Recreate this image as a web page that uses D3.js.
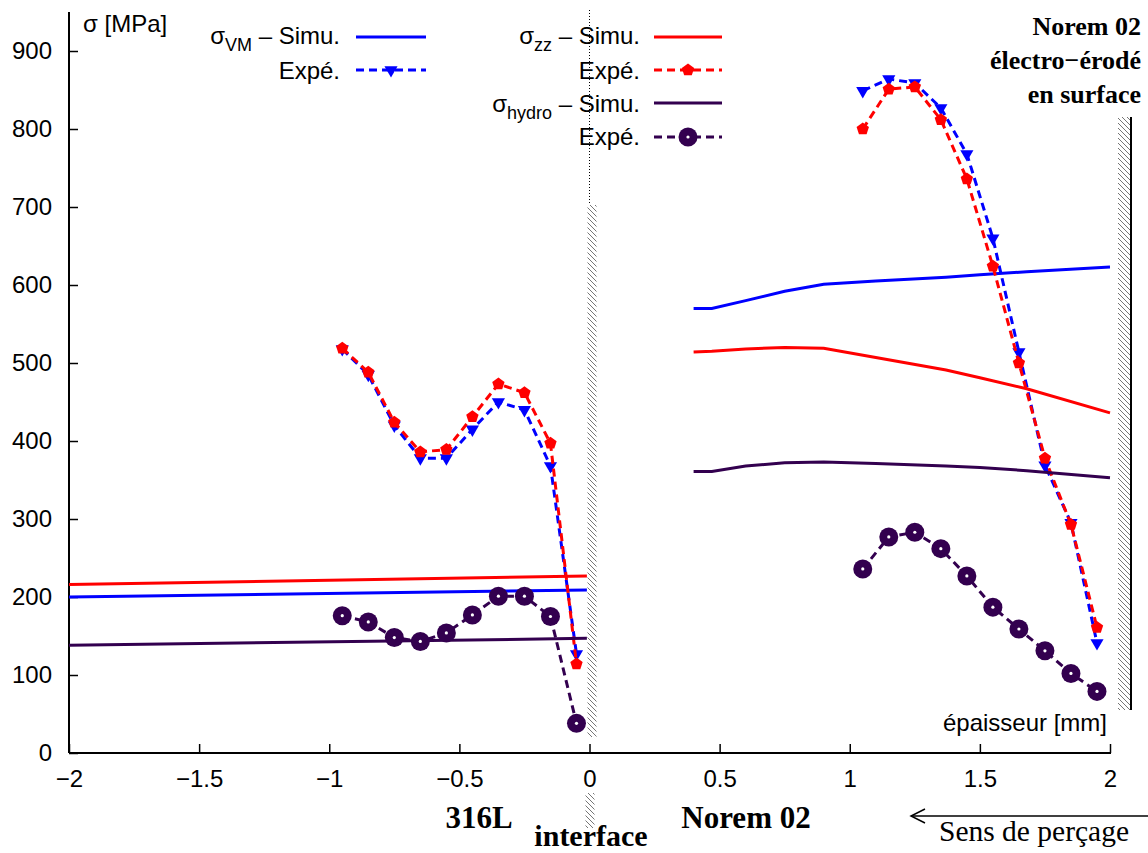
<!DOCTYPE html>
<html><head><meta charset="utf-8">
<script src="https://cdn.jsdelivr.net/npm/d3@7"></script>
<style>
body{margin:0;background:#fff;}
text{font-family:"Liberation Sans",Arial,sans-serif;}
.serif{font-family:"Liberation Serif","Times New Roman",serif;}
</style></head>
<body><svg id="c" width="1148" height="853"></svg>
<script>
// ---------- data ----------
const xTicks = [-2,-1.5,-1,-0.5,0,0.5,1,1.5,2];
const yTicks = [0,100,200,300,400,500,600,700,800,900];

const xSimLeft = [-2, -0.01];
const vmSimLeft = [200, 209];
const zzSimLeft = [216, 227];
const hySimLeft = [138, 147];

const xSimRight = [0.4,0.47,0.6,0.75,0.9,1.1,1.37,1.5,1.68,2.0];
const vmSimRight = [570,570,580,592,601,605,610,613,617,623];
const zzSimRight = [514,515,518,520,519,507,491,481,467,436];
const hySimRight = [361,361,368,372,373,371,368,366,362,353];

const xExpLeft = [-0.95,-0.85,-0.75,-0.65,-0.55,-0.45,-0.35,-0.25,-0.15,-0.05];
const vmExpLeft = [518,485,420,378,378,415,450,440,368,127];
const zzExpLeft = [519,488,424,386,389,431,473,462,397,114];
const hyExpLeft = [176,168,148,143,154,177,201,201,175,38];

const xExpRight = [1.05,1.15,1.25,1.35,1.45,1.55,1.65,1.75,1.85,1.95];
const vmExpRight = [849,864,859,827,768,660,514,369,295,141];
const zzExpRight = [800,851,854,812,736,624,500,378,293,161];
const hyExpRight = [236,277,283,262,227,187,159,131,102,79];

const colVM = "#0000ff", colZZ = "#ff0000", colHY = "#33004f";

// ---------- scales ----------
const svg = d3.select("#c");
const x = d3.scaleLinear().domain([-2,2]).range([69,1110]);
const y = d3.scaleLinear().domain([0,950]).range([753,12]);

// hatch pattern
const defs = svg.append("defs");
const pat = defs.append("pattern").attr("id","hatch").attr("patternUnits","userSpaceOnUse")
  .attr("width",5).attr("height",5);
pat.append("path").attr("d","M-1,-1 L6,6 M-1,4 L1,6 M4,-1 L6,1").attr("stroke","#666").attr("stroke-width",0.9);

// interface marks
svg.append("line").attr("x1",x(0)).attr("x2",x(0)).attr("y1",10).attr("y2",205)
  .attr("stroke","#000").attr("stroke-width",1).attr("stroke-dasharray","1,2");
svg.append("rect").attr("x",x(0)-2).attr("y",205).attr("width",9).attr("height",532).attr("fill","url(#hatch)");
svg.append("rect").attr("x",x(0)-4).attr("y",793).attr("width",9).attr("height",35).attr("fill","url(#hatch)");

// right surface
svg.append("rect").attr("x",1118).attr("y",117).attr("width",12).attr("height",593).attr("fill","url(#hatch)");
svg.append("line").attr("x1",1131).attr("x2",1131).attr("y1",117).attr("y2",710).attr("stroke","#000").attr("stroke-width",2);

// ---------- axes ----------
const FS = 24;
const ax = svg.append("g");
ax.append("line").attr("x1",69).attr("x2",69).attr("y1",12).attr("y2",753).attr("stroke","#000").attr("stroke-width",2);
ax.append("line").attr("x1",69).attr("x2",1111).attr("y1",753).attr("y2",753).attr("stroke","#000").attr("stroke-width",2);
const yAxis = d3.axisLeft(y).tickValues(yTicks).tickSize(-9).tickPadding(17).tickFormat(d3.format("d"));
const gy = svg.append("g").attr("transform","translate(69,0)").call(yAxis);
gy.select(".domain").remove();
gy.selectAll(".tick line").attr("stroke-width",1.5);
gy.selectAll("text").attr("font-size",FS).attr("fill","#000").attr("font-family","Liberation Sans, Arial, sans-serif");
const xAxis = d3.axisBottom(x).tickValues(xTicks).tickSize(-9).tickPadding(17)
  .tickFormat(d => d3.format("")(d).replace("-","\u2212"));
const gx = svg.append("g").attr("transform","translate(0,753)").call(xAxis);
gx.select(".domain").remove();
gx.selectAll(".tick line").attr("stroke-width",1.5);
gx.selectAll("text").attr("font-size",FS).attr("fill","#000").attr("font-family","Liberation Sans, Arial, sans-serif");

// ---------- series ----------
const line = d3.line().x(d=>x(d[0])).y(d=>y(d[1]));
function zip(xs, ys){ return xs.map((v,i)=>[v, ys[i]]); }
function simLine(xs, ys, col){
  svg.append("path").datum(zip(xs,ys)).attr("d",line).attr("fill","none")
    .attr("stroke",col).attr("stroke-width",3);
}
function expLine(xs, ys, col){
  svg.append("path").datum(zip(xs,ys)).attr("d",line).attr("fill","none")
    .attr("stroke",col).attr("stroke-width",3).attr("stroke-dasharray","8,5");
}
const triSym = d3.symbol().type(d3.symbolTriangle).size(75);
const pentPath = (() => { const r=6.5; let p=""; for(let i=0;i<5;i++){const a=-Math.PI/2+i*2*Math.PI/5; p+=(i?"L":"M")+(r*Math.cos(a)).toFixed(2)+","+(r*Math.sin(a)).toFixed(2);} return p+"Z"; })();
function markerAt(px, py, kind, col){
  const t = `translate(${px},${py})`;
  if(kind==="tri") svg.append("path").attr("d",triSym()).attr("transform",t+" rotate(180)").attr("fill",col);
  else if(kind==="pent") svg.append("path").attr("d",pentPath).attr("transform",t).attr("fill",col);
  else { svg.append("circle").attr("r",9.5).attr("transform",t).attr("fill",col);
         svg.append("circle").attr("r",1.6).attr("transform",t).attr("fill","#fff"); }
}
function markers(xs, ys, kind, col){
  zip(xs,ys).forEach(d => markerAt(x(d[0]), y(d[1]), kind, col));
}

simLine(xSimLeft, vmSimLeft, colVM); simLine(xSimRight, vmSimRight, colVM);
expLine(xExpLeft, vmExpLeft, colVM); expLine(xExpRight, vmExpRight, colVM);
markers(xExpLeft, vmExpLeft, "tri", colVM); markers(xExpRight, vmExpRight, "tri", colVM);
simLine(xSimLeft, zzSimLeft, colZZ); simLine(xSimRight, zzSimRight, colZZ);
expLine(xExpLeft, zzExpLeft, colZZ); expLine(xExpRight, zzExpRight, colZZ);
markers(xExpLeft, zzExpLeft, "pent", colZZ); markers(xExpRight, zzExpRight, "pent", colZZ);
simLine(xSimLeft, hySimLeft, colHY); simLine(xSimRight, hySimRight, colHY);
expLine(xExpLeft, hyExpLeft, colHY); expLine(xExpRight, hyExpRight, colHY);
markers(xExpLeft, hyExpLeft, "circ", colHY); markers(xExpRight, hyExpRight, "circ", colHY);

// ---------- legend ----------
function legendEntry(tx, ty, label, sub, rest, col, dashed, kind, lx1, lx2, ly){
  const t = svg.append("text").attr("x",tx).attr("y",ty).attr("text-anchor","end").attr("font-size",FS).attr("fill","#000");
  if(label){ t.append("tspan").text(label);
    t.append("tspan").attr("dy",7).attr("font-size",18).text(sub);
    t.append("tspan").attr("dy",-7).text(rest); }
  else t.text(rest);
  svg.append("line").attr("x1",lx1).attr("x2",lx2).attr("y1",ly).attr("y2",ly).attr("stroke",col)
    .attr("stroke-width",3).attr("stroke-dasharray",dashed?"8,5":null);
  if(kind) markerAt((lx1+lx2)/2, ly, kind, col);
}
legendEntry(340,44,"σ","VM"," \u2013 Simu.",colVM,false,null,356,426,37);
legendEntry(340,79,null,null,"Expé.",colVM,true,"tri",356,426,70);
legendEntry(640,44,"σ","zz"," \u2013 Simu.",colZZ,false,null,654,722,37);
legendEntry(640,79,null,null,"Expé.",colZZ,true,"pent",654,722,70);
legendEntry(640,112,"σ","hydro"," \u2013 Simu.",colHY,false,null,654,722,103);
legendEntry(640,145,null,null,"Expé.",colHY,true,"circ",654,722,137);

// ---------- annotations ----------
svg.append("text").attr("x",83).attr("y",32).attr("font-size",FS).text("σ [MPa]");
svg.append("text").attr("x",1107).attr("y",731).attr("text-anchor","end").attr("font-size",FS).text("épaisseur [mm]");
const tr = svg.append("text").attr("class","serif").attr("text-anchor","end").attr("font-size",26).attr("font-weight","bold");
[["Norem 02",35],["électro\u2212érodé",69],["en surface",103]].forEach(d=>
  tr.append("tspan").attr("x",1141).attr("y",d[1]).text(d[0]));
svg.append("text").attr("class","serif").attr("x",479).attr("y",828).attr("text-anchor","middle")
  .attr("font-size",31).attr("font-weight","bold").text("316L");
svg.append("text").attr("class","serif").attr("x",591).attr("y",846).attr("text-anchor","middle")
  .attr("font-size",30).attr("font-weight","bold").text("interface");
svg.append("text").attr("class","serif").attr("x",746).attr("y",828).attr("text-anchor","middle")
  .attr("font-size",31).attr("font-weight","bold").text("Norem 02");
svg.append("text").attr("class","serif").attr("x",1129).attr("y",841).attr("text-anchor","end")
  .attr("font-size",29.5).text("Sens de perçage");
svg.append("line").attr("x1",911).attr("x2",1148).attr("y1",816).attr("y2",816).attr("stroke","#000").attr("stroke-width",1.5);
svg.append("path").attr("d","M925,809 L911,816 L925,823").attr("fill","none").attr("stroke","#000").attr("stroke-width",1.5);
</script></body></html>
